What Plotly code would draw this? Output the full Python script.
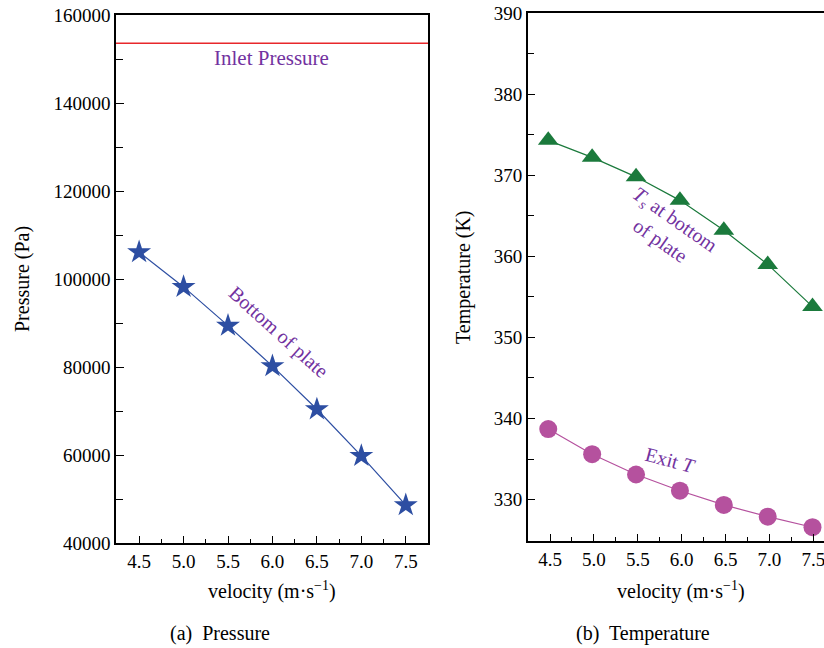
import plotly.graph_objects as go

velocity = [4.5, 5.0, 5.5, 6.0, 6.5, 7.0, 7.5]
pressure_bottom = [106100, 98200, 89400, 80200, 70400, 59800, 48600]
inlet_pressure = 153600

velocity_T = [4.48, 4.98, 5.48, 5.98, 6.48, 6.98, 7.49]
ts_bottom = [374.3, 372.2, 369.8, 366.9, 363.2, 359.0, 353.8]
exit_T = [338.7, 335.6, 333.1, 331.1, 329.35, 327.9, 326.6]

FONT = "Liberation Serif"
PURPLE = "#7232A0"
W, H = 824, 648

def px(x):
    return x / W

def py(y):
    return 1 - y / H

fig = go.Figure()

fig.add_trace(go.Scatter(
    x=[4.24, 7.75], y=[inlet_pressure, inlet_pressure], mode="lines",
    line=dict(color="#E8272B", width=1.5), xaxis="x", yaxis="y", showlegend=False))
fig.add_trace(go.Scatter(
    x=velocity, y=pressure_bottom, mode="lines+markers",
    line=dict(color="#2D4EA2", width=1.2),
    marker=dict(symbol="star", size=18, color="#2D4EA2"),
    xaxis="x", yaxis="y", showlegend=False))
fig.add_trace(go.Scatter(
    x=velocity_T, y=ts_bottom, mode="lines+markers",
    line=dict(color="#1B7A3C", width=1.2),
    marker=dict(symbol="triangle-up", size=18, color="#1B7A3C"),
    xaxis="x2", yaxis="y2", showlegend=False, cliponaxis=False))
fig.add_trace(go.Scatter(
    x=velocity_T, y=exit_T, mode="lines+markers",
    line=dict(color="#B5519E", width=1.2),
    marker=dict(symbol="circle", size=18, color="#B5519E"),
    xaxis="x2", yaxis="y2", showlegend=False, cliponaxis=False))

axis_common = dict(
    showline=True, linecolor="black", linewidth=1.5, ticks="inside",
    tickcolor="black", tickwidth=1.3, showgrid=False, zeroline=False,
    automargin=False, ticklabeloverflow="allow",
    tickfont=dict(family=FONT, size=19, color="black"),
)

fig.update_layout(
    width=W, height=H, margin=dict(l=0, r=0, t=0, b=0, autoexpand=False),
    paper_bgcolor="white", plot_bgcolor="white",
    xaxis=dict(axis_common, domain=[px(116), px(428)], range=[4.24, 7.75],
               anchor="y", mirror=True, tickvals=velocity, tickformat=".1f",
               ticklen=7, minor=dict(dtick=0.25, tick0=4.25, ticks="inside", ticklen=4,
                                      tickcolor="black", tickwidth=1.2)),
    yaxis=dict(axis_common, domain=[py(543), py(15)], range=[40000, 160000],
               anchor="x", mirror=True, dtick=20000, tickformat="d",
               ticklen=8, minor=dict(dtick=10000, ticks="inside", ticklen=7,
                                      tickcolor="black", tickwidth=1.2)),
    xaxis2=dict(axis_common, domain=[px(527.7), 1.0], range=[4.246, 7.621],
                anchor="y2", mirror=True, tickvals=velocity, tickformat=".1f",
                ticklen=7, minor=dict(dtick=0.25, tick0=4.25, ticks="inside", ticklen=4,
                                       tickcolor="black", tickwidth=1.2)),
    yaxis2=dict(axis_common, domain=[py(541), py(13)], range=[324.9, 390],
                anchor="x2", mirror=False, dtick=10,
                ticklen=8, minor=dict(dtick=5, ticks="inside", ticklen=7,
                                       tickcolor="black", tickwidth=1.2)),
)

ann = []
def text(x, y, t, size=18, color="black", angle=0, align="center"):
    ann.append(dict(x=px(x), y=py(y), xref="paper", yref="paper", text=t,
                    showarrow=False, textangle=angle, align=align,
                    font=dict(family=FONT, size=size, color=color),
                    xanchor="center", yanchor="middle"))

text(272, 590, "velocity (m·s<sup>−1</sup>)", size=20)
text(681, 590, "velocity (m·s<sup>−1</sup>)", size=20)
text(22, 279, "Pressure (Pa)", size=20, angle=-90)
text(463, 277, "Temperature (K)", size=20, angle=-90)
text(220, 633, "(a)  Pressure", size=20)
text(643, 633, "(b)  Temperature", size=20)
text(271, 58, "Inlet Pressure", size=21, color=PURPLE)
text(279, 332, "Bottom of plate", size=20, color=PURPLE, angle=42)
text(668, 230, "<i>T</i><sub><i>s</i></sub> at bottom<br>of plate", size=20,
     color=PURPLE, angle=35)
text(670, 460, "Exit <i>T</i>", size=20, color=PURPLE, angle=15)
fig.update_layout(annotations=ann)

fig.write_html("out.html")
